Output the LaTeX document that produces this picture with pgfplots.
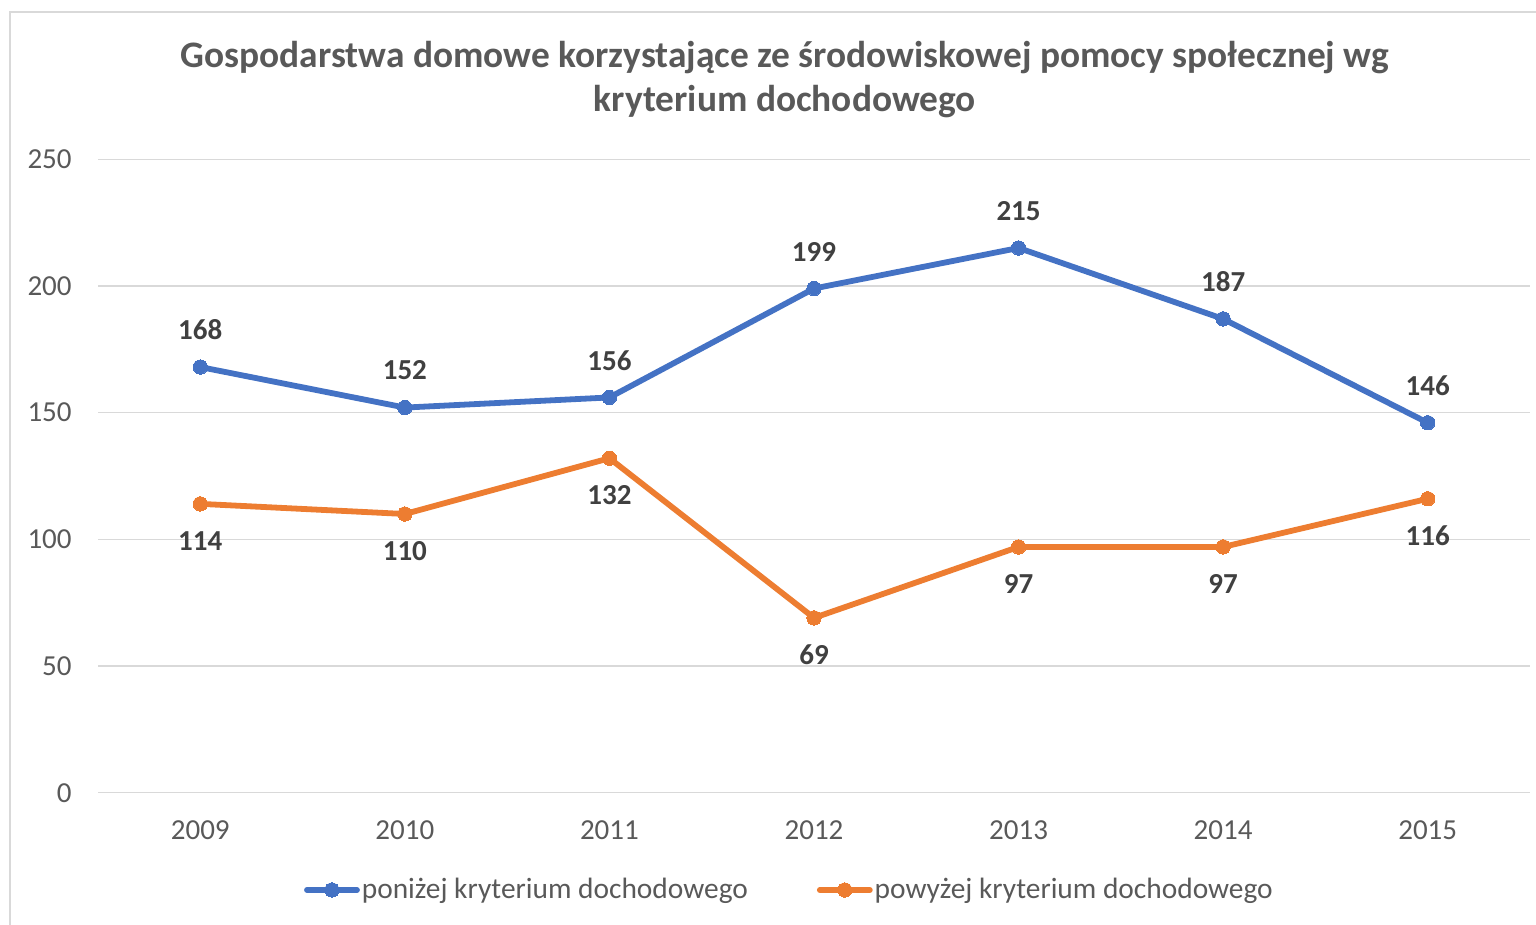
\documentclass[border=0pt]{standalone}
\usepackage{fontspec}
\setmainfont{Carlito}
\usepackage{pgfplots}
\pgfplotsset{compat=1.18}
\definecolor{cblue}{HTML}{4472C4}
\definecolor{corange}{HTML}{ED7D31}
\definecolor{cgrid}{HTML}{D9D9D9}
\definecolor{ctext}{HTML}{595959}
\definecolor{clabel}{HTML}{404040}
\begin{document}
\begin{tikzpicture}
\path[use as bounding box] (0pt,0pt) rectangle (768pt,462.5pt);
\draw[cgrid, line width=1pt] (5pt,-2pt) -- (5pt,456.5pt) -- (770pt,456.5pt);
\node[anchor=base, inner sep=0pt, text=ctext, font=\fontsize{18.7}{22}\selectfont\bfseries] at (392.5pt,428.5pt) {Gospodarstwa domowe korzystające ze środowiskowej pomocy społecznej wg};
\node[anchor=base, inner sep=0pt, text=ctext, font=\fontsize{18.7}{22}\selectfont\bfseries] at (392.5pt,406.5pt) {kryterium dochodowego};
\begin{axis}[
  at={(49pt,66.15pt)}, anchor=south west,
  scale only axis, width=716pt, height=316.7pt,
  xmin=-0.5, xmax=6.5, ymin=0, ymax=250,
  ytick={0,50,100,150,200,250},
  xtick={0,1,2,3,4,5,6},
  xticklabels={2009,2010,2011,2012,2013,2014,2015},
  axis line style={draw=none},
  major tick length=0pt,
  tick style={draw=none},
  ymajorgrids, grid style={cgrid, line width=0.75pt},
  clip=false,
  /pgf/number format/assume math mode=true,
  tick label style={font=\fontsize{14.5}{17}\selectfont, text=ctext, inner sep=0pt},
  xticklabel style={anchor=north, yshift=-14pt},
  yticklabel style={anchor=east, xshift=-13pt},
  legend columns=2,
  legend cell align=left,
  legend image code/.code={\draw[mark repeat=2,mark phase=2,line cap=round,#1] plot coordinates {(0pt,0pt) (12.5pt,0pt) (25pt,0pt)};},
  legend style={at={(0.1439,-0.1536)}, anchor=west, draw=none, fill=none,
    inner sep=0pt, outer sep=0pt,
    font=\fontsize{14.7}{17}\selectfont, text=ctext,
    nodes={inner sep=0pt},
    /tikz/every odd column/.append style={column sep=1pt},
    /tikz/every even column/.append style={column sep=34.5pt}},
  every node near coord/.append style={font=\fontsize{14.5}{17}\selectfont\bfseries, text=clabel, anchor=center, inner sep=0pt},
]
\addplot[cblue, line width=2.9pt, line join=round, mark=*, mark size=3.6pt,
  mark options={solid, fill=cblue, draw=cblue, line width=0pt},
  nodes near coords, every node near coord/.append style={yshift=18.5pt}]
  coordinates {(0,168) (1,152) (2,156) (3,199) (4,215) (5,187) (6,146)};
\addlegendentry{poniżej kryterium dochodowego}
\addplot[corange, line width=2.9pt, line join=round, mark=*, mark size=3.6pt,
  mark options={solid, fill=corange, draw=corange, line width=0pt},
  nodes near coords, every node near coord/.append style={yshift=-18.5pt}]
  coordinates {(0,114) (1,110) (2,132) (3,69) (4,97) (5,97) (6,116)};
\addlegendentry{powyżej kryterium dochodowego}
\end{axis}
\end{tikzpicture}
\end{document}
